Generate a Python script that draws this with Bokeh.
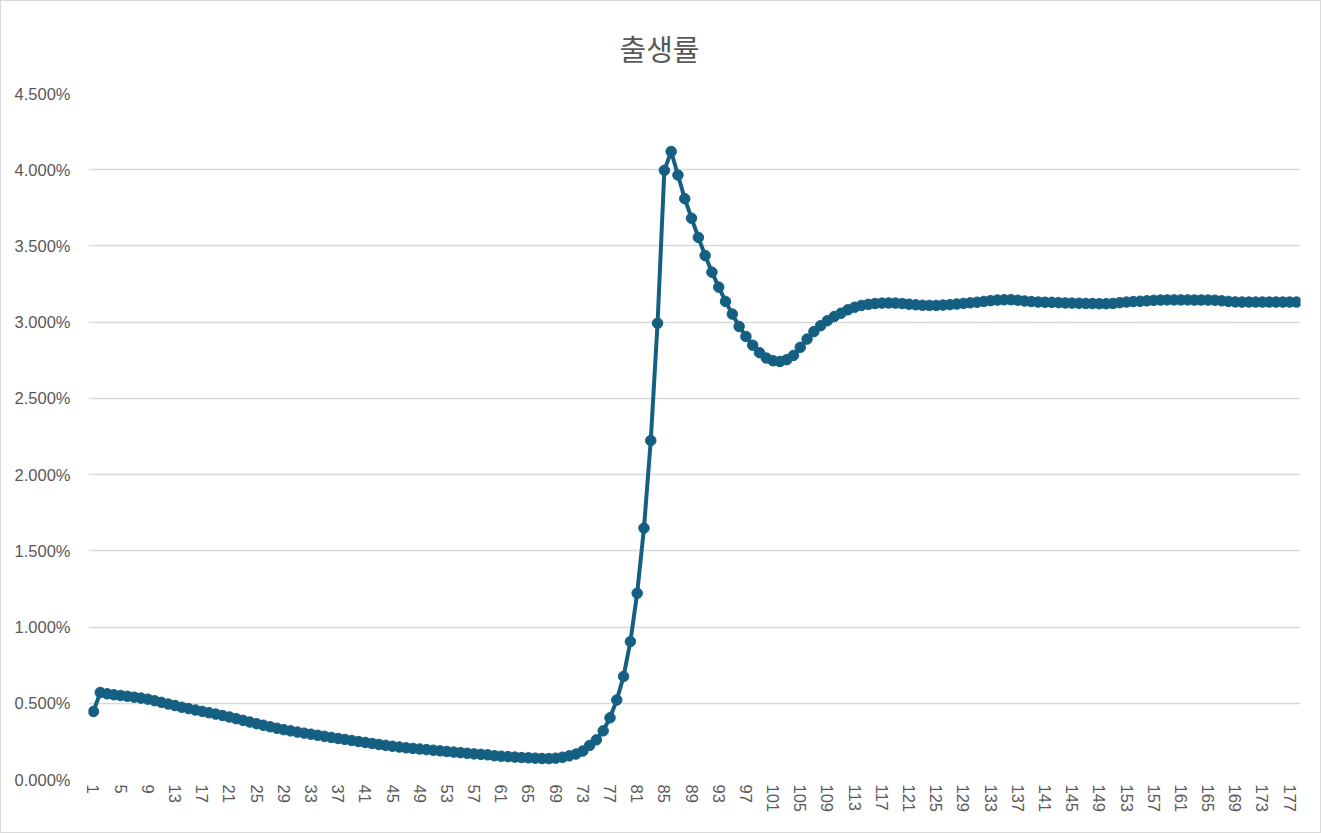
from bokeh.embed import file_html
from bokeh.models import ColumnDataSource, FixedTicker, PrintfTickFormatter, Range1d
from bokeh.plotting import figure
from bokeh.resources import INLINE

# 출생률 (%), one value per period 1..178
birth_rate = [
    0.446, 0.571, 0.562, 0.556, 0.551, 0.546, 0.540, 0.534, 0.527, 0.517,
    0.506, 0.495, 0.485, 0.474, 0.465, 0.456, 0.447, 0.438, 0.429, 0.420,
    0.410, 0.399, 0.388, 0.377, 0.366, 0.356, 0.346, 0.336, 0.327, 0.319,
    0.311, 0.304, 0.297, 0.290, 0.283, 0.276, 0.269, 0.263, 0.256, 0.249,
    0.243, 0.236, 0.230, 0.224, 0.218, 0.213, 0.208, 0.204, 0.200, 0.196,
    0.192, 0.188, 0.184, 0.180, 0.176, 0.172, 0.168, 0.165, 0.162, 0.156,
    0.153, 0.150, 0.147, 0.144, 0.142, 0.140, 0.138, 0.137, 0.140, 0.146,
    0.155, 0.167, 0.187, 0.223, 0.260, 0.319, 0.405, 0.522, 0.676, 0.905,
    1.222, 1.649, 2.224, 2.993, 3.996, 4.120, 3.965, 3.810, 3.682, 3.556,
    3.437, 3.328, 3.230, 3.136, 3.053, 2.972, 2.906, 2.849, 2.800, 2.765,
    2.747, 2.742, 2.754, 2.782, 2.835, 2.889, 2.938, 2.977, 3.010, 3.037,
    3.059, 3.081, 3.098, 3.110, 3.117, 3.122, 3.125, 3.126, 3.125, 3.122,
    3.118, 3.114, 3.111, 3.110, 3.110, 3.112, 3.115, 3.119, 3.123, 3.127,
    3.131, 3.136, 3.141, 3.145, 3.147, 3.147, 3.144, 3.139, 3.135, 3.132,
    3.131, 3.130, 3.128, 3.126, 3.125, 3.124, 3.123, 3.122, 3.121, 3.121,
    3.123, 3.128, 3.132, 3.135, 3.137, 3.140, 3.143, 3.145, 3.146, 3.146,
    3.146, 3.146, 3.145, 3.145, 3.145, 3.144, 3.140, 3.136, 3.133, 3.132,
    3.132, 3.132, 3.132, 3.132, 3.132, 3.132, 3.132, 3.132,
]
period = list(range(1, len(birth_rate) + 1))
x_ticks = list(range(1, len(birth_rate) + 1, 4))
y_ticks = [0, 0.5, 1.0, 1.5, 2.0, 2.5, 3.0, 3.5, 4.0, 4.5]
title = "출생률"

LINE = "#156082"
GREY = "#595959"
GRID = "#d9d9d9"

src = ColumnDataSource(data=dict(period=period, rate=birth_rate))

p = figure(width=1321, height=833, output_backend="svg", toolbar_location=None,
           x_range=Range1d(0.27, 178.6), y_range=Range1d(0, 4.5),
           min_border_left=87, min_border_right=22, min_border_top=92, min_border_bottom=55,
           background_fill_color="white", border_fill_color="white")
p.outline_line_color = None
p.styles = {"border": "1px solid #d9d9d9"}

p.title.text = title
p.title.align = "left"
p.title.offset = 531
p.title.standoff = 54
p.title.text_font = "Liberation Sans, Noto Sans CJK KR"
p.title.text_font_size = "29px"
p.title.text_font_style = "normal"
p.title.text_color = GREY

p.line("period", "rate", source=src, line_width=4, line_color=LINE)
p.scatter("period", "rate", source=src, size=10.5, fill_color=LINE, line_color=LINE)

p.xgrid.grid_line_color = None
p.ygrid.grid_line_color = GRID
p.ygrid.grid_line_width = 1.5

p.yaxis.ticker = FixedTicker(ticks=y_ticks)
p.yaxis.formatter = PrintfTickFormatter(format="%.3f%%")
p.xaxis.ticker = FixedTicker(ticks=x_ticks)
p.xaxis.major_label_orientation = "vertical"

for ax in (p.xaxis[0], p.yaxis[0]):
    ax.axis_line_color = None
    ax.major_tick_line_color = None
    ax.minor_tick_line_color = None
    ax.major_tick_out = 0
    ax.major_tick_in = 0
    ax.major_label_text_font = "Liberation Sans"
    ax.major_label_text_font_size = "16.5px"
    ax.major_label_text_color = GREY
p.yaxis.major_label_standoff = 18
p.xaxis.major_label_standoff = 5

open("out.html", "w").write(file_html(p, INLINE))
